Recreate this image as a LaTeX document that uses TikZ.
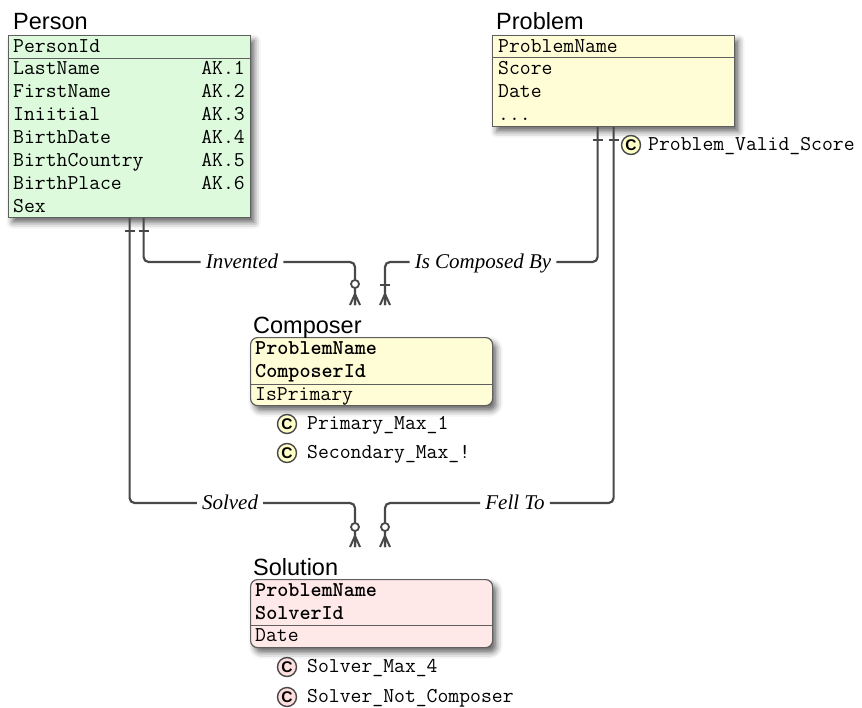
\documentclass[tikz,border=0pt]{standalone}
\usepackage{fontspec}
\setmainfont{Liberation Serif}
\setsansfont{Liberation Sans}
\usetikzlibrary{shadows.blur}
\definecolor{personfill}{RGB}{221,250,221}
\definecolor{probfill}{RGB}{255,253,213}
\definecolor{solfill}{RGB}{255,232,232}
\definecolor{boxline}{RGB}{95,95,95}
\definecolor{relgray}{RGB}{72,72,72}
\definecolor{chkyellow}{RGB}{255,255,200}
\definecolor{chkpink}{RGB}{255,222,222}
\newcommand{\crowfoot}[1]{\draw[foot] ([yshift=11pt]#1) -- ++(-5pt,-11pt) ([yshift=11pt]#1) -- (#1) ([yshift=11pt]#1) -- ++(5pt,-11pt);}
\tikzset{
	tbl/.style={draw=boxline, line width=1.2pt, anchor=north west, inner sep=0pt, blur shadow={shadow xshift=4pt, shadow yshift=-5pt, shadow blur radius=6pt, shadow opacity=60}},
	sep/.style={draw=boxline, line width=1pt},
	title/.style={font=\sffamily\fontsize{23.5}{28}\selectfont, anchor=base west, inner sep=0pt},
	row/.style={font=\ttfamily\fontsize{21.1}{24}\selectfont, anchor=base west, inner sep=0pt},
	keyrow/.style={row, font=\ttfamily\bfseries\fontsize{21.1}{24}\selectfont},
	ak/.style={row, anchor=base east},
	chk/.style={circle, draw=relgray, line width=1.4pt, minimum size=19pt, inner sep=0pt, font=\sffamily\bfseries\fontsize{15.5}{15.5}\selectfont},
	rel/.style={draw=relgray, line width=2.2pt, rounded corners=5pt},
	foot/.style={draw=relgray, line width=2pt},
	opt/.style={circle, draw=relgray, fill=white, line width=1.8pt, minimum size=8pt, inner sep=0pt},
	rellabel/.style={font=\itshape\fontsize{21}{25}\selectfont, text height=12pt, text depth=0pt, inner ysep=0pt, inner xsep=5pt}
}
\begin{document}
\begin{tikzpicture}[x=1pt,y=-1pt]
	\useasboundingbox (0,0) rectangle (862,707);

	\node[tbl, fill=personfill, minimum width=242pt, minimum height=182pt] (person) at (8,35) {};
	\node[title] (person-title) at (13,29) {Person};
	\draw[sep] (person.west |- 0,58) -- (person.east |- 0,58);
	\node[row] (person-id) at (13,52) {PersonId};
	\node[row] (person-last) at (13,74) {LastName};
	\node[row] (person-first) at (13,97) {FirstName};
	\node[row] (person-init) at (13,120) {Iniitial};
	\node[row] (person-bdate) at (13,143) {BirthDate};
	\node[row] (person-bcountry) at (13,166) {BirthCountry};
	\node[row] (person-bplace) at (13,189) {BirthPlace};
	\node[row] (person-sex) at (13,212) {Sex};
	\node[ak] (ak-1) at (245,74) {AK.1};
	\node[ak] (ak-2) at (245,97) {AK.2};
	\node[ak] (ak-3) at (245,120) {AK.3};
	\node[ak] (ak-4) at (245,143) {AK.4};
	\node[ak] (ak-5) at (245,166) {AK.5};
	\node[ak] (ak-6) at (245,189) {AK.6};

	\node[tbl, fill=probfill, minimum width=242pt, minimum height=91pt] (problem) at (492,35) {};
	\node[title] (problem-title) at (496,29) {Problem};
	\draw[sep] (problem.west |- 0,57) -- (problem.east |- 0,57);
	\node[row] (problem-name) at (498,52) {ProblemName};
	\node[row] (problem-score) at (498,74) {Score};
	\node[row] (problem-date) at (498,97) {Date};
	\node[row] (problem-more) at (498,120) {...};

	\node[tbl, rounded corners=7pt, fill=probfill, minimum width=242pt, minimum height=68pt] (composer) at (250,337) {};
	\node[title] (composer-title) at (253,333) {Composer};
	\draw[sep] (composer.west |- 0,384) -- (composer.east |- 0,384);
	\node[keyrow] (composer-prob) at (255,354) {ProblemName};
	\node[keyrow] (composer-id) at (255,377) {ComposerId};
	\node[row] (composer-primary) at (255,400) {IsPrimary};

	\node[tbl, rounded corners=7pt, fill=solfill, minimum width=242pt, minimum height=68pt] (solution) at (250,579) {};
	\node[title] (solution-title) at (253,575) {Solution};
	\draw[sep] (solution.west |- 0,625) -- (solution.east |- 0,625);
	\node[keyrow] (solution-prob) at (255,596) {ProblemName};
	\node[keyrow] (solution-id) at (255,619) {SolverId};
	\node[row] (solution-date) at (255,641) {Date};

	\node[chk, fill=chkyellow] (valid-c) at (631,145) {C};
	\node[row] (valid) at (648,150) {Problem\_Valid\_Score};
	\node[chk, fill=chkyellow] (primary-c) at (287,424) {C};
	\node[row] (primary) at (307,429) {Primary\_Max\_1};
	\node[chk, fill=chkyellow] (secondary-c) at (287,453) {C};
	\node[row] (secondary) at (307,458) {Secondary\_Max\_!};
	\node[chk, fill=chkpink] (max-c) at (287,667) {C};
	\node[row] (max) at (307,672) {Solver\_Max\_4};
	\node[chk, fill=chkpink] (notcomp-c) at (287,697) {C};
	\node[row] (notcomp) at (307,702) {Solver\_Not\_Composer};

	\node[rellabel] (invented) at (242,262) {Invented};
	\node[rellabel] (composed-by) at (483,262) {Is Composed By};
	\node[rellabel] (solved) at (230,503) {Solved};
	\node[rellabel] (fell-to) at (515,503) {Fell To};
	\coordinate (invented-end) at (355,305);
	\coordinate (composed-end) at (385,305);
	\coordinate (solved-end) at (355,547);
	\coordinate (fell-end) at (385,547);

	\draw[rel] ([xshift=14pt]person.south) |- (invented.west);
	\draw[rel] (invented.east) -| (invented-end);
	\draw[rel] ([xshift=-16pt]problem.south) |- (composed-by.east);
	\draw[rel] (composed-by.west) -| (composed-end);
	\draw[rel] (person.south) |- (solved.west);
	\draw[rel] (solved.east) -| (solved-end);
	\draw[rel] (problem.south) |- (fell-to.east);
	\draw[rel] (fell-to.west) -| (fell-end);

	\draw[foot] ([xshift=-5pt,yshift=-13pt]person.south) -- ++(10pt,0pt);
	\draw[foot] ([xshift=9pt,yshift=-13pt]person.south) -- ++(10pt,0pt);
	\draw[foot] ([xshift=-5pt,yshift=-13pt]problem.south) -- ++(10pt,0pt);
	\draw[foot] ([xshift=-21pt,yshift=-13pt]problem.south) -- ++(10pt,0pt);
	\draw[foot] ([xshift=-5pt,yshift=20pt]composed-end) -- ++(10pt,0pt);
	\node[opt] (invented-opt) at ([yshift=21pt]invented-end) {};
	\node[opt] (solved-opt) at ([yshift=20pt]solved-end) {};
	\node[opt] (fell-opt) at ([yshift=20pt]fell-end) {};
	\crowfoot{invented-end}
	\crowfoot{composed-end}
	\crowfoot{solved-end}
	\crowfoot{fell-end}
\end{tikzpicture}
\end{document}
